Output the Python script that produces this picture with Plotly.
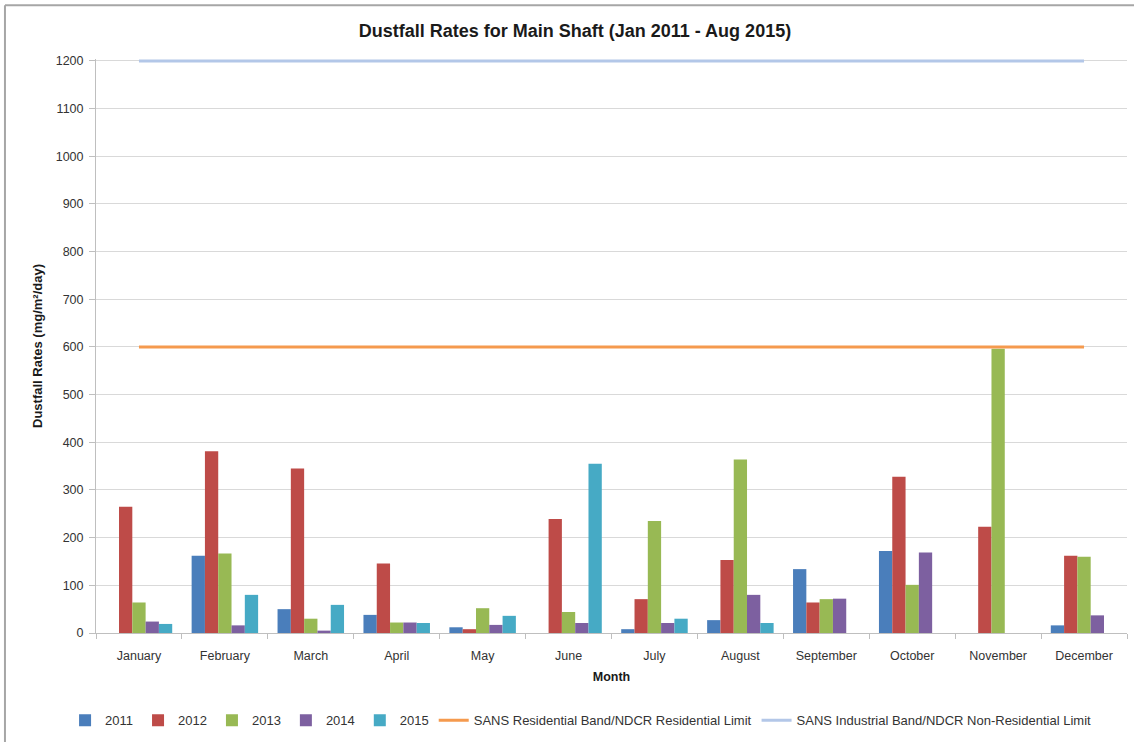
import plotly.graph_objects as go

# Monthly dustfall rates at the Main Shaft (mg/m²/day)
months = ["January", "February", "March", "April", "May", "June",
          "July", "August", "September", "October", "November", "December"]

rates_2011 = [None, 162, 50, 38, 12, None, 8, 27, 134, 172, None, 16]
rates_2012 = [265, 381, 345, 146, 8, 239, 71, 153, 64, 328, 223, 162]
rates_2013 = [64, 167, 30, 22, 52, 44, 235, 364, 71, 101, 596, 160]
rates_2014 = [24, 16, 5, 22, 17, 21, 21, 80, 72, 169, None, 37]
rates_2015 = [19, 80, 59, 21, 36, 355, 30, 21, None, None, None, None]

residential_limit = [600, 600, 600, 600, 600, 600, 600, 600, 600, 600, 600, 600]
industrial_limit = [1200, 1200, 1200, 1200, 1200, 1200, 1200, 1200, 1200, 1200, 1200, 1200]

y_ticks = [0, 100, 200, 300, 400, 500, 600, 700, 800, 900, 1000, 1100, 1200]

bar_series = [
    ("2011", rates_2011, "#4A7EBB"),
    ("2012", rates_2012, "#BE4B48"),
    ("2013", rates_2013, "#98B954"),
    ("2014", rates_2014, "#7D60A0"),
    ("2015", rates_2015, "#46AAC5"),
]

NARROW = "Liberation Sans Narrow, Arial Narrow, Liberation Sans, Arial, sans-serif"
REGULAR = "Liberation Sans, Arial, sans-serif"

fig = go.Figure()
for name, vals, color in bar_series:
    fig.add_trace(go.Bar(x=months, y=vals, name=name,
                         marker=dict(color=color, line=dict(width=0))))

fig.add_trace(go.Scatter(x=months, y=residential_limit, mode="lines",
                         name="SANS Residential Band/NDCR Residential Limit",
                         line=dict(color="#F59A4E", width=3)))
fig.add_trace(go.Scatter(x=months, y=industrial_limit, mode="lines",
                         name="SANS Industrial Band/NDCR Non-Residential Limit",
                         line=dict(color="#B3C7E8", width=3)))

# outer chart frame (top and left edges)
frame_color = "#A6A6A6"
fig.add_shape(type="line", xref="paper", yref="paper",
              x0=-0.0883, x1=1.01, y0=1.0938, y1=1.0938,
              line=dict(color=frame_color, width=2))
fig.add_shape(type="line", xref="paper", yref="paper",
              x0=-0.0883, x1=-0.0883, y0=1.0938, y1=-0.19,
              line=dict(color=frame_color, width=2))

fig.update_layout(
    width=1134, height=742,
    margin=dict(l=96, r=7, t=59, b=107),
    paper_bgcolor="white", plot_bgcolor="white",
    barmode="group", bargap=0.226, bargroupgap=0,
    title=dict(text="<b>Dustfall Rates for Main Shaft (Jan 2011 - Aug 2015)</b>",
               font=dict(family=NARROW, size=18, color="#1a1a1a"),
               x=0.507, xref="container", xanchor="center",
               y=0.958, yref="container", yanchor="middle"),
    font=dict(family=REGULAR, size=12, color="#333333"),
    legend=dict(orientation="h", x=0.47, xanchor="center", y=-0.152, yanchor="middle",
                font=dict(family=NARROW, size=13, color="#333333"),
                itemwidth=30, tracegroupgap=0, traceorder="normal"),
    showlegend=True,
)

fig.update_xaxes(
    type="category", showgrid=False, showline=True, linecolor="#BFBFBF", linewidth=1,
    ticks="outside", tickson="boundaries", ticklen=5, tickcolor="#BFBFBF",
    tickfont=dict(family=REGULAR, size=12.5, color="#333333"), ticklabelstandoff=11,
    title=dict(text="<b>Month</b>", font=dict(family=REGULAR, size=12.5, color="#1a1a1a"), standoff=10),
    automargin=False,
)
fig.update_yaxes(
    range=[0, 1204], tickvals=y_ticks, showgrid=True, gridcolor="#D9D9D9", gridwidth=1,
    showline=True, linecolor="#BFBFBF", linewidth=1, zeroline=False,
    ticks="outside", ticklen=6, tickcolor="#BFBFBF",
    tickfont=dict(family=REGULAR, size=12.5, color="#333333"), ticklabelstandoff=3,
    title=dict(text="<b>Dustfall Rates (mg/m²/day)</b>", font=dict(family=NARROW, size=13, color="#1a1a1a"), standoff=10),
    automargin=False,
)

fig.write_html("out.html")
